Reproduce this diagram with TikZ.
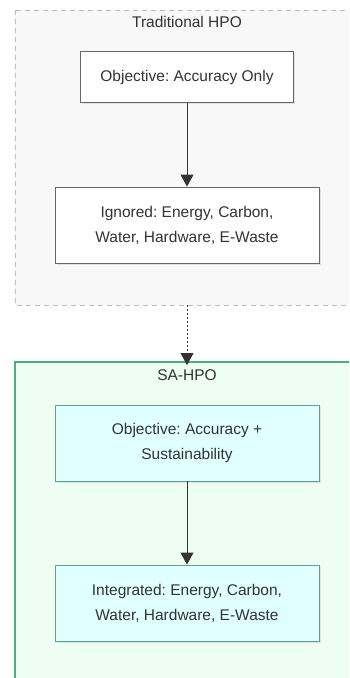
\documentclass[tikz,border=0pt]{standalone}
\usepackage{fontspec}
\setmainfont{Liberation Sans}
\usetikzlibrary{arrows.meta,shadows}
\frenchspacing
\definecolor{tradfill}{HTML}{F8F8F8}
\definecolor{tradborder}{HTML}{BDBDBD}
\definecolor{boxborder}{HTML}{666666}
\definecolor{safill}{HTML}{EEFEF3}
\definecolor{saborder}{HTML}{4CAF78}
\definecolor{cyanfill}{HTML}{E0FFFF}
\definecolor{cyanborder}{HTML}{5F9EA0}
\definecolor{txt}{HTML}{333333}
\tikzset{
  basebox/.style={draw=boxborder, fill=white, line width=0.9pt, minimum width=264pt, minimum height=76pt, align=center, text=txt, font=\fontsize{15.5}{25}\selectfont, drop shadow={opacity=0.18, shadow xshift=1.5pt, shadow yshift=-1.5pt}},
  cyanbox/.style={basebox, draw=cyanborder, fill=cyanfill},
  flowarrow/.style={draw=txt, line width=0.9pt, -{Triangle[length=12pt,width=13pt]}},
  titletext/.style={text=txt, font=\fontsize{15.5}{20}\selectfont},
}
\begin{document}
\begin{tikzpicture}[x=1pt,y=-1pt]
\useasboundingbox (0,0) rectangle (349,678);
\clip (0,0) rectangle (349,678);
% clusters
\draw[tradborder, fill=tradfill, dashed, dash pattern=on 5pt off 4pt, line width=0.9pt] (15,10) rectangle (362,305);
\draw[saborder, fill=safill, line width=1.3pt] (15,362) rectangle (362,700);
\node[titletext] (t1) at (187,22) {Traditional HPO};
\node[titletext] (t2) at (187,375) {SA-HPO};
% nodes
\node[basebox, minimum width=213pt, minimum height=51pt] (a) at (187,77) {Objective: Accuracy Only};
\node[basebox] (b) at (187,225) {Ignored: Energy, Carbon,\\Water, Hardware, E-Waste};
\node[cyanbox] (c) at (187,443) {Objective: Accuracy +\\Sustainability};
\node[cyanbox] (d) at (187,603) {Integrated: Energy, Carbon,\\Water, Hardware, E-Waste};
\coordinate (tb) at (187,305);
\coordinate (st) at (187,362);
% connectors
\draw[flowarrow] (a.south) -- (b.north);
\draw[flowarrow, dash pattern=on 2pt off 2pt] (tb) -- ([yshift=-3pt]st);
\draw[flowarrow] (c.south) -- (d.north);
\end{tikzpicture}
\end{document}
